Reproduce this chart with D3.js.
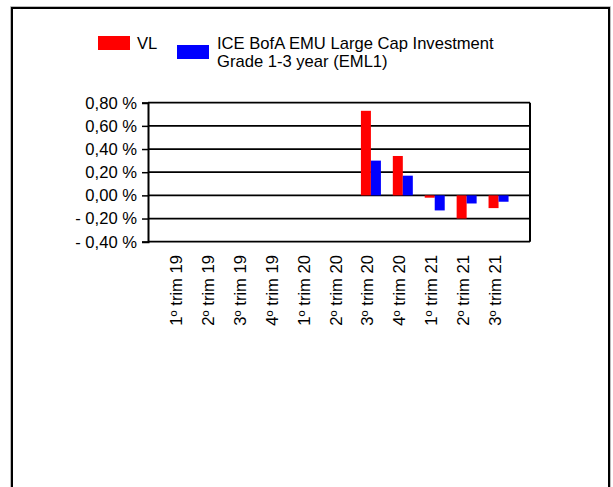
<!DOCTYPE html>
<html>
<head>
<meta charset="utf-8">
<script src="https://cdn.jsdelivr.net/npm/d3@7"></script>
<style>
  body { margin: 0; background: #fff; }
  text { font-family: Arial, "Liberation Sans", sans-serif; fill: #000; }
</style>
</head>
<body>
<svg id="chart" width="613" height="487"></svg>
<script>
// categorie (trimestri)
let trimestri = ["1º trim 19", "2º trim 19", "3º trim 19", "4º trim 19", "1º trim 20",
  "2º trim 20", "3º trim 20", "4º trim 20", "1º trim 21", "2º trim 21", "3º trim 21"];
// serie
let serieNomi = ["VL", "ICE BofA EMU Large Cap Investment Grade 1-3 year (EML1)"];
let valoriVL = [null, null, null, null, null, null, 0.73, 0.34, -0.02, -0.20, -0.11];
let valoriBench = [null, null, null, null, null, null, 0.30, 0.17, -0.13, -0.07, -0.055];
let tickValori = [0.8, 0.6, 0.4, 0.2, 0, -0.2, -0.4];
let colori = ["#ff0000", "#0000ff"];

let fs = 16.6;
let svg = d3.select("#chart");

// cornice esterna
svg.append("path")
  .attr("d", "M10.5,490 V6.5 H610.5 V490")
  .attr("fill", "none").attr("stroke", "#bbb").attr("stroke-width", 1);
svg.append("path")
  .attr("d", "M12,490 V8 H609 V490")
  .attr("fill", "none").attr("stroke", "#000").attr("stroke-width", 2);

// area del grafico
let pLeft = 148, pRight = 530, pTop = 102.7, pBottom = 241.7;

let y = d3.scaleLinear().domain([-0.4, 0.8]).range([pBottom, pTop]);
let x0 = d3.scaleBand().domain(trimestri).range([pLeft + 15.5, pRight - 15.5]).padding(0);
let x1 = d3.scaleBand().domain([0, 1]).range([0, 20]);

let fmt = function(v) {
  let s = Math.abs(v).toFixed(2).replace(".", ",") + " %";
  return v < -1e-9 ? "- " + s : s;
};

// griglia
svg.append("g").selectAll("line")
  .data(tickValori)
  .enter().append("line")
    .attr("x1", pLeft).attr("x2", pRight)
    .attr("y1", function(d) { return y(d); })
    .attr("y2", function(d) { return y(d); })
    .attr("stroke", "#000").attr("stroke-width", 1.8);

// bordo destro
svg.append("line")
  .attr("x1", pRight).attr("x2", pRight).attr("y1", pTop).attr("y2", pBottom)
  .attr("stroke", "#000").attr("stroke-width", 2);

// asse y
let yAxis = svg.append("g")
  .attr("transform", `translate(${pLeft},0)`)
  .call(d3.axisLeft(y).tickValues(tickValori).tickFormat(fmt).tickSize(6).tickPadding(5));
yAxis.select(".domain").attr("stroke", "#000").attr("stroke-width", 2);
yAxis.selectAll(".tick line").attr("stroke", "#000").attr("stroke-width", 1.5);
yAxis.selectAll("text").attr("font-size", fs).attr("font-family", "Arial, 'Liberation Sans', sans-serif").attr("fill", "#000");

// barre
let serie = [valoriVL, valoriBench];
serie.forEach(function(vals, s) {
  svg.append("g").selectAll("rect")
    .data(trimestri.map(function(t, i) { return {cat: t, v: vals[i]}; }).filter(function(d) { return d.v !== null; }))
    .enter().append("rect")
      .attr("x", function(d) { return x0(d.cat) + (x0.bandwidth() - 20) / 2 + x1(s); })
      .attr("width", x1.bandwidth())
      .attr("y", function(d) { return y(Math.max(0, d.v)); })
      .attr("height", function(d) { return Math.abs(y(d.v) - y(0)); })
      .attr("fill", colori[s]);
});

// etichette categorie
svg.append("g").selectAll("text")
  .data(trimestri)
  .enter().append("text")
    .attr("transform", function(d) { return `translate(${x0(d) + x0.bandwidth() / 2},255) rotate(-90)`; })
    .attr("text-anchor", "end")
    .attr("dy", "0.15em")
    .attr("font-size", fs)
    .text(function(d) { return d; });

// legenda
let leg = svg.append("g");
leg.append("rect").attr("x", 98).attr("y", 36).attr("width", 32).attr("height", 14).attr("fill", colori[0]);
leg.append("text").attr("x", 137).attr("y", 49).attr("font-size", fs).text(serieNomi[0]);
leg.append("rect").attr("x", 177).attr("y", 45).attr("width", 32).attr("height", 14).attr("fill", colori[1]);
leg.append("text").attr("x", 217).attr("y", 48.5).attr("font-size", fs).text("ICE BofA EMU Large Cap Investment");
leg.append("text").attr("x", 217).attr("y", 67).attr("font-size", fs).text("Grade 1-3 year (EML1)");
</script>
</body>
</html>
